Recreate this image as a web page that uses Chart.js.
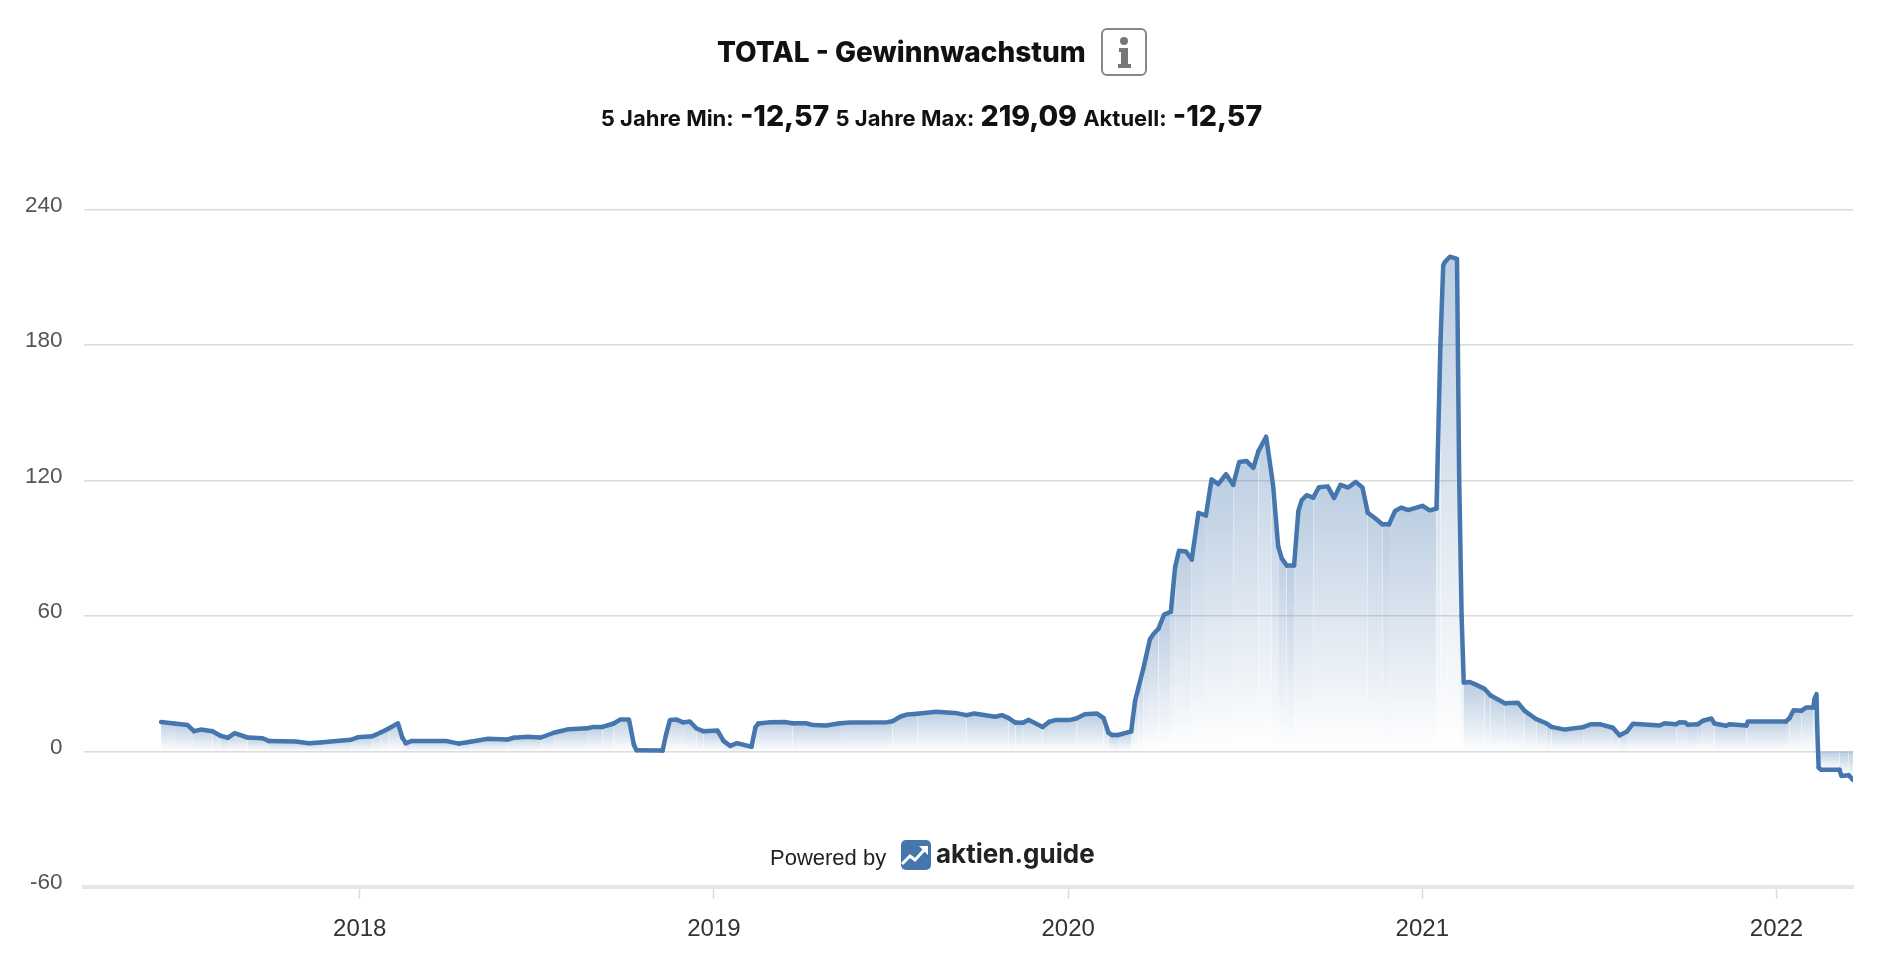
<!DOCTYPE html>
<html lang="de">
<head>
<meta charset="utf-8">
<title>TOTAL - Gewinnwachstum</title>
<script src="https://cdn.jsdelivr.net/npm/chart.js@4"></script>
<style>
  html, body { margin: 0; padding: 0; background: #fff; }
  body { width: 1878px; height: 956px; position: relative; overflow: hidden; font-family: Inter, "Liberation Sans", sans-serif; color: #111; }
  canvas { position: absolute; left: 0; top: 0; }
  .titel { position: absolute; left: 717px; top: 34px; font-size: 28px; line-height: 37px; font-weight: 800; white-space: nowrap; }
  .info { position: absolute; left: 1101px; top: 28px; width: 42px; height: 44px; border: 2px solid #888; border-radius: 6px; }
  .werte { position: absolute; left: 0; top: 97px; width: 1864px; text-align: center; font-size: 22px; line-height: 38px; font-weight: 700; white-space: nowrap; }
  .werte b { font-size: 28.5px; font-weight: 800; margin: 0 1px; }
  .powered { position: absolute; left: 770px; top: 844px; font-family: "Liberation Sans", sans-serif; font-size: 22px; line-height: 28px; color: #222; white-space: nowrap; }
  .logo { position: absolute; left: 901px; top: 840px; }
  .marke { position: absolute; left: 936px; top: 836px; font-size: 26px; line-height: 36px; font-weight: 700; color: #222; white-space: nowrap; }
</style>
</head>
<body>
<canvas id="grafico" width="1878" height="956"></canvas>
<div class="titel">TOTAL - Gewinnwachstum</div>
<div class="info">
  <svg width="42" height="44" viewBox="0 0 42 44">
    <circle cx="21" cy="11" r="4" fill="#777"/>
    <path d="M16 18h9v16h3v4H15v-4h3V22h-2z" fill="#777"/>
  </svg>
</div>
<div class="werte">5 Jahre Min: <b>-12,57</b> 5 Jahre Max: <b>219,09</b> Aktuell: <b>-12,57</b></div>
<div class="powered">Powered by</div>
<svg class="logo" width="30" height="30" viewBox="0 0 30 30">
  <rect width="30" height="30" rx="5" fill="#4577ae"/>
  <path d="M1 24l8-8 5 4 10-11" fill="none" stroke="#fff" stroke-width="3"/>
  <path d="M18 6h9v9z" fill="#fff"/>
</svg>
<div class="marke">aktien.guide</div>

<script>
// Jahr als Dezimalzahl
const jahre = [
  2017.439, 2017.476, 2017.514, 2017.532, 2017.551, 2017.584, 2017.608, 2017.628, 2017.647, 2017.683,
  2017.726, 2017.744, 2017.819, 2017.856, 2017.895, 2017.975, 2017.994, 2018.036, 2018.059, 2018.082,
  2018.108, 2018.120, 2018.130, 2018.146, 2018.243, 2018.280, 2018.313, 2018.360, 2018.417, 2018.435,
  2018.473, 2018.511, 2018.548, 2018.590, 2018.642, 2018.661, 2018.685, 2018.717, 2018.736, 2018.760,
  2018.774, 2018.781, 2018.855, 2018.865, 2018.876, 2018.893, 2018.913, 2018.932, 2018.951, 2018.970,
  2019.010, 2019.027, 2019.046, 2019.065, 2019.106, 2019.117, 2019.125, 2019.155, 2019.199, 2019.222,
  2019.260, 2019.280, 2019.317, 2019.356, 2019.384, 2019.489, 2019.504, 2019.527, 2019.546, 2019.575,
  2019.627, 2019.680, 2019.713, 2019.735, 2019.794, 2019.813, 2019.832, 2019.851, 2019.872, 2019.889,
  2019.928, 2019.946, 2019.966, 2020.003, 2020.023, 2020.047, 2020.082, 2020.100, 2020.114, 2020.124,
  2020.141, 2020.178, 2020.189, 2020.198, 2020.212, 2020.231, 2020.241, 2020.255, 2020.271, 2020.290,
  2020.302, 2020.313, 2020.333, 2020.349, 2020.368, 2020.389, 2020.405, 2020.424, 2020.446, 2020.466,
  2020.483, 2020.504, 2020.523, 2020.537, 2020.559, 2020.575, 2020.579, 2020.593, 2020.603, 2020.617,
  2020.638, 2020.650, 2020.659, 2020.673, 2020.692, 2020.708, 2020.733, 2020.751, 2020.769, 2020.791,
  2020.812, 2020.831, 2020.846, 2020.866, 2020.887, 2020.906, 2020.923, 2020.941, 2020.960, 2021.000,
  2021.021, 2021.040, 2021.051, 2021.059, 2021.064, 2021.078, 2021.098, 2021.104, 2021.111, 2021.117,
  2021.134, 2021.153, 2021.176, 2021.193, 2021.233, 2021.270, 2021.289, 2021.322, 2021.350, 2021.365,
  2021.402, 2021.454, 2021.477, 2021.501, 2021.538, 2021.557, 2021.578, 2021.595, 2021.670, 2021.684,
  2021.717, 2021.726, 2021.743, 2021.750, 2021.778, 2021.792, 2021.816, 2021.825, 2021.858, 2021.867,
  2021.915, 2021.919, 2022.027, 2022.037, 2022.048, 2022.070, 2022.084, 2022.104, 2022.107, 2022.113,
  2022.115, 2022.119, 2022.126, 2022.178, 2022.183, 2022.204, 2022.216
];

const gewinnwachstum = [
  13.1, 12.4, 11.7, 9.0, 9.7, 9.0, 6.9, 6.1, 8.1, 6.2,
  5.9, 4.6, 4.4, 3.7, 4.1, 5.2, 6.3, 6.8, 8.4, 10.2,
  12.5, 6.2, 3.7, 4.6, 4.7, 3.5, 4.3, 5.6, 5.3, 6.1,
  6.5, 6.2, 8.3, 9.9, 10.3, 10.9, 10.9, 12.4, 14.2, 14.2,
  3.0, 0.6, 0.4, 7.7, 14, 14.2, 12.9, 13.3, 10.2, 9,
  9.3, 4.7, 2.5, 3.7, 2.1, 10.6, 12.4, 12.9, 13.1, 12.5,
  12.5, 11.7, 11.5, 12.5, 12.8, 13, 13.4, 15.5, 16.4, 16.7,
  17.6, 17.1, 16.1, 16.8, 15.4, 16.1, 14.8, 12.8, 12.7, 14,
  10.9, 13.1, 14, 13.9, 14.6, 16.5, 16.8, 14.8, 8.3, 7.3,
  7.3, 8.9, 22.5, 28, 36.5, 49.7, 52, 54.4, 60.6, 61.9,
  81.6, 88.9, 88.6, 85, 105.7, 104.5, 120.5, 118.4, 122.8, 118.1,
  128.2, 128.6, 125.6, 132.9, 139.4, 122, 117.4, 90.9, 85.5, 82.4,
  82.4, 106.5, 111.1, 113.5, 112.4, 117, 117.4, 112.2, 118.1, 116.9,
  119.4, 116.9, 105.7, 103.4, 100.6, 100.6, 106.5, 108, 106.9, 108.8,
  106.8, 107.6, 179.5, 215.3, 216.8, 219.09, 218.1, 122, 59.8, 30.6,
  30.8, 29.5, 27.7, 24.8, 21.4, 21.6, 18, 14.3, 12.5, 10.9,
  9.7, 10.8, 12.1, 12.1, 10.5, 7.2, 8.9, 12.3, 11.5, 12.5,
  12.1, 13, 12.8, 11.8, 12.1, 13.6, 14.6, 12.4, 11.4, 12.1,
  11.5, 13.3, 13.3, 14.8, 18.3, 18, 19.5, 19.5, 23.2, 25.4,
  10.6, -7.1, -8.1, -8.1, -10.8, -10.5, -12.57
];

const punkte = jahre.map((jahr, i) => ({ x: jahr, y: gewinnwachstum[i] }));

// Aehnlich hohe Teilstuecke teilen sich einen Verlauf, sonst entstehen helle Naehte in der Flaeche
const verlaeufe = {};

function fuellung(c) {
  const null_y = c.chart.scales.y.getPixelForValue(0);
  const negativ = c.p0.y > null_y && c.p1.y > null_y;
  const hoehe = negativ ? Math.max(c.p0.y, c.p1.y) - null_y : null_y - Math.min(c.p0.y, c.p1.y);
  const stufe = Math.round(Math.log(Math.max(hoehe, 1)) * 10);
  const key = (negativ ? "n" : "p") + stufe;
  if (!verlaeufe[key]) {
    const h = Math.exp(stufe / 10);
    const verlauf = negativ
      ? c.chart.ctx.createLinearGradient(0, null_y, 0, null_y + h)
      : c.chart.ctx.createLinearGradient(0, null_y - h, 0, null_y);
    verlauf.addColorStop(0, "rgba(69, 119, 174, 0.36)");
    verlauf.addColorStop(1, "rgba(69, 119, 174, 0)");
    verlaeufe[key] = verlauf;
  }
  return verlaeufe[key];
}

new Chart(document.getElementById("grafico"), {
  type: "line",
  data: {
    datasets: [{
      data: punkte,
      borderColor: "#4577ae",
      borderWidth: 4.5,
      borderCapStyle: "round",
      borderJoinStyle: "round",
      backgroundColor: "rgba(69, 119, 174, 0.2)",
      pointRadius: 0,
      tension: 0,
      fill: { value: 0 },
      segment: { backgroundColor: fuellung }
    }]
  },
  options: {
    responsive: false,
    animation: false,
    layout: { padding: { top: 209.5, right: 25, left: 0, bottom: 0 } },
    plugins: { legend: { display: false }, tooltip: { enabled: false } },
    scales: {
      x: {
        type: "linear",
        min: 2017.2200,
        max: 2022.216,
        afterFit: (scale) => { scale.height = 69; },
        border: { display: true, color: "#e6e6e6", width: 4 },
        grid: { drawOnChartArea: false, drawTicks: true, color: "#dcdcdc", tickColor: "#dcdcdc", tickLength: 12, tickWidth: 1.5 },
        ticks: {
          stepSize: 1,
          includeBounds: false,
          autoSkip: false,
          maxRotation: 0,
          padding: 16,
          color: "#333",
          font: { family: "'Liberation Sans'", size: 24 },
          callback: (v) => String(v)
        }
      },
      y: {
        min: -60,
        max: 240,
        afterFit: (scale) => { scale.width = 83.5; },
        border: { display: false },
        grid: { drawTicks: false, color: "#dcdcdc", lineWidth: 1.5 },
        ticks: {
          stepSize: 60,
          padding: 21,
          labelOffset: -4,
          color: "#555",
          font: { family: "'Liberation Sans'", size: 22.5 }
        }
      }
    }
  }
});
</script>
</body>
</html>
